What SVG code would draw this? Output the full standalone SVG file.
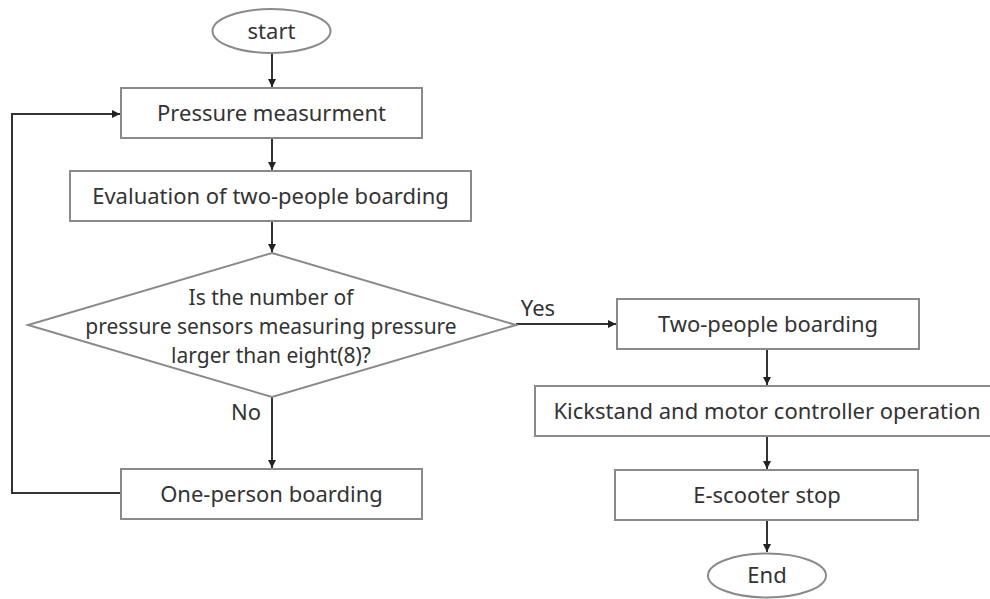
<svg xmlns="http://www.w3.org/2000/svg" width="990" height="599" viewBox="0 0 990 599">
<style>
.box{fill:#fff;stroke:#8a8a8a;stroke-width:2}
.t{font-family:"Noto Sans","Liberation Sans",sans-serif;font-size:22px;fill:#333;text-anchor:middle}
.d{font-size:21px}
.c{fill:none;stroke:#333;stroke-width:2}
</style>
<defs>
<marker id="ah" markerWidth="10" markerHeight="10" refX="9" refY="5" orient="auto" markerUnits="userSpaceOnUse">
<path d="M1,1 L9,5 L1,9 Z" fill="#222"/>
</marker>
</defs>
<rect width="990" height="599" fill="#fff"/>
<g id="connectors">
<line class="c" x1="272" y1="53" x2="272" y2="87" marker-end="url(#ah)"/>
<line class="c" x1="272" y1="138" x2="272" y2="170" marker-end="url(#ah)"/>
<line class="c" x1="272" y1="221" x2="272" y2="252" marker-end="url(#ah)"/>
<line class="c" x1="272" y1="397" x2="272" y2="468" marker-end="url(#ah)"/>
<polyline class="c" points="121,493 12,493 12,114 120,114" marker-end="url(#ah)"/>
<line class="c" x1="516" y1="324" x2="616" y2="324" marker-end="url(#ah)"/>
<line class="c" x1="767" y1="349" x2="767" y2="385" marker-end="url(#ah)"/>
<line class="c" x1="767" y1="436" x2="767" y2="469" marker-end="url(#ah)"/>
<line class="c" x1="767" y1="520" x2="767" y2="552" marker-end="url(#ah)"/>
<text class="t" x="538" y="316">Yes</text>
<text class="t" x="246" y="420">No</text>
</g>
<g id="start">
<ellipse class="box" cx="271.5" cy="31" rx="59" ry="22"/>
<text class="t" x="271.5" y="39">start</text>
</g>
<g id="pressure">
<rect class="box" x="121" y="88" width="301" height="50"/>
<text class="t" x="271.5" y="121">Pressure measurment</text>
</g>
<g id="evaluation">
<rect class="box" x="70" y="171" width="401" height="50"/>
<text class="t" x="270.5" y="204">Evaluation of two-people boarding</text>
</g>
<g id="decision">
<polygon class="box" points="272,253 516,325 272,397 28,325"/>
<text class="t d"><tspan x="271" y="305">Is the number of</tspan><tspan x="271" y="334">pressure sensors measuring pressure</tspan><tspan x="271" y="363">larger than eight(8)?</tspan></text>
</g>
<g id="one-person">
<rect class="box" x="121" y="469" width="301" height="50"/>
<text class="t" x="271.5" y="502">One-person boarding</text>
</g>
<g id="two-people">
<rect class="box" x="617" y="299" width="302" height="50"/>
<text class="t" x="768" y="332">Two-people boarding</text>
</g>
<g id="kickstand">
<rect class="box" x="535" y="386" width="460" height="50"/>
<text class="t" x="767" y="419">Kickstand and motor controller operation</text>
</g>
<g id="stop">
<rect class="box" x="615" y="470" width="303" height="50"/>
<text class="t" x="767" y="503">E-scooter stop</text>
</g>
<g id="end">
<ellipse class="box" cx="767" cy="575.5" rx="59" ry="22"/>
<text class="t" x="767" y="583">End</text>
</g>
</svg>
